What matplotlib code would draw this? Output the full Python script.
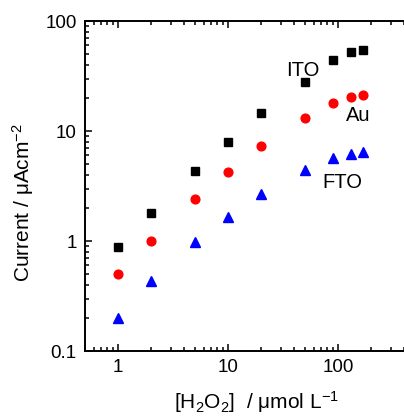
import matplotlib
matplotlib.use("Agg")
import matplotlib.pyplot as plt
from matplotlib.ticker import LogLocator, NullFormatter

plt.rcParams["font.family"] = ["Liberation Sans", "DejaVu Sans"]
plt.rcParams["mathtext.fontset"] = "custom"
plt.rcParams["mathtext.rm"] = "Liberation Sans"
plt.rcParams["mathtext.it"] = "Liberation Sans:italic"
plt.rcParams["mathtext.default"] = "regular"

# Концентрация H2O2, мкмоль/л
conc = [1, 2, 5, 10, 20, 50, 90, 130, 170]

# Плотность тока, мкА/см2
ito = [0.88, 1.81, 4.3, 7.9, 14.5, 27.9, 44, 52, 55]
au = [0.50, 1.0, 2.42, 4.27, 7.3, 13.2, 18, 20.2, 21.2]
fto = [0.20, 0.43, 0.97, 1.64, 2.67, 4.45, 5.65, 6.2, 6.45]

y_ticks = [0.1, 1, 10, 100]
x_ticks = [1, 10, 100]

W, H = 404, 416
fig = plt.figure(figsize=(W / 100, H / 100), dpi=100)
# ось уходит за правый край картинки, как на оригинале
left, right, top, bottom = 85, 415, 21, 351
ax = fig.add_axes([left / W, 1 - bottom / H, (right - left) / W, (bottom - top) / H])

ax.plot(conc, ito, "s", color="black", markersize=5.2, linestyle="none")
ax.plot(conc, au, "o", color="red", markersize=6.3, linestyle="none")
ax.plot(conc, fto, "^", color="blue", markersize=7, linestyle="none")

ax.set_xscale("log")
ax.set_yscale("log")
ax.set_xlim(0.5, 500)
ax.set_ylim(0.1, 100)

ax.set_xticks(x_ticks)
ax.set_xticklabels([str(v) for v in x_ticks])
ax.set_yticks(y_ticks)
ax.set_yticklabels(["0.1", "1", "10", "100"])
ax.xaxis.set_minor_locator(LogLocator(base=10, subs=range(2, 10)))
ax.yaxis.set_minor_locator(LogLocator(base=10, subs=range(2, 10)))
ax.xaxis.set_minor_formatter(NullFormatter())
ax.yaxis.set_minor_formatter(NullFormatter())

ax.tick_params(which="both", direction="in", top=True, right=False,
               labelsize=13.5, width=1.1)
ax.tick_params(which="major", length=5, pad=6)
ax.tick_params(which="minor", length=3)
for s in ax.spines.values():
    s.set_linewidth(1.4)
ax.spines["right"].set_visible(False)

ax.text(0.61, 0.85, "ITO", transform=ax.transAxes, fontsize=14.5,
        ha="left", va="center")
ax.text(0.79, 0.715, "Au", transform=ax.transAxes, fontsize=14.5,
        ha="left", va="center")
ax.text(0.72, 0.51, "FTO", transform=ax.transAxes, fontsize=14.5,
        ha="left", va="center")

ax.set_xlabel("[H$_2$O$_2$]  / μmol L$^{-1}$", fontsize=15)
ax.set_ylabel("Current / μAcm$^{-2}$", fontsize=15)
ax.xaxis.set_label_coords(0.52, -0.115)
ax.yaxis.set_label_coords(-0.15, 0.45)

fig.savefig("out.png", dpi=100)
